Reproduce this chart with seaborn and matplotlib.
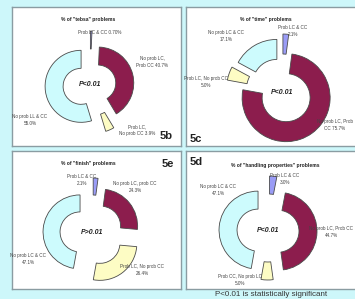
import matplotlib
matplotlib.use("Agg")
import matplotlib.pyplot as plt
import seaborn as sns

sns.set_theme(style="white")
plt.rcParams['font.family'] = ['Liberation Sans', 'DejaVu Sans']

# ---------------- data ----------------
categories = ["Prob LC & CC", "No prob LC, Prob CC", "Prob LC, No prob CC", "No prob LC & CC"]
panel_ids = ["5b", "5c", "5e", "5d"]
titles = ['% of "tebsa" problems', '% of "time" problems',
          '% of "finish" problems', '% of "handling properties" problems']
values_5b = [0.7, 40.7, 3.9, 54.7]
values_5c = [2.1, 75.7, 5.0, 17.1]
values_5e = [2.1, 24.3, 26.4, 47.1]
values_5d = [3.0, 44.7, 5.0, 47.1]
labels_5b = ["Prob LC & CC 0.70%", "No prob LC,\nProb CC 40.7%", "Prob LC,\nNo prob CC 3.9%", "No prob LL & CC\n55.0%"]
labels_5c = ["Prob LC & CC\n2.1%", "No prob LC, Prob\nCC 75.7%", "Prob LC, No prob CC\n5.0%", "No prob LC & CC\n17.1%"]
labels_5e = ["Prob LC & CC\n2.1%", "No prob LC, prob CC\n24.3%", "Prob LC, No prob CC\n26.4%", "No prob LC & CC\n47.1%"]
labels_5d = ["Prob LC & CC\n3.0%", "No prob LC, Prob CC\n44.7%", "Prob CC, No prob LC\n5.0%", "No prob LC & CC\n47.1%"]
p_texts = ["P<0.01", "P<0.01", "P>0.01", "P<0.01"]
footnote = "P<0.01 is statistically significant"

all_values = [values_5b, values_5c, values_5e, values_5d]
all_labels = [labels_5b, labels_5c, labels_5e, labels_5d]

# ---------------- layout (pixel coords, y downwards) ----------------
W, H = 355, 299
panels = [(12, 7, 181, 146), (186, 7, 362, 146), (12, 151, 181, 289), (186, 151, 362, 289)]
centers = [(90, 85), (282, 92), (92, 233), (268, 231)]
radii = [36, 44, 37, 39]
widths = [18, 20, 17, 18]
explodes = [[18, 8, 13, 9], [14, 7, 12, 10], [18, 11, 13, 12], [16, 10, 10, 10]]
label_pos = [
    [(100, 32, 'center'), (152, 62, 'center'), (137, 130, 'center'), (30, 120, 'center')],
    [(293, 31, 'center'), (353, 125, 'right'), (206, 82, 'center'), (226, 36, 'center')],
    [(82, 180, 'center'), (135, 187, 'center'), (142, 270, 'center'), (28, 259, 'center')],
    [(285, 179, 'center'), (353, 232, 'right'), (262, 280, 'right'), (218, 190, 'center')],
]
title_pos = [(88, 19), (266, 19), (88, 163), (275, 165)]
id_pos = [(166, 136), (196, 139), (168, 164), (196, 162)]

colors = ["#9a9cf6", "#8c1d4d", "#fdfcc4", "#cdfbfd"]
edge = "#4a4a4a"

fig = plt.figure(figsize=(W / 100, H / 100), dpi=100)
fig.patch.set_facecolor("#cdf7fa")

for i in range(4):
    x0, y0, x1, y1 = panels[i]
    pw, ph = x1 - x0, y1 - y0
    ax = fig.add_axes([x0 / W, (H - y1) / H, pw / W, ph / H])
    ax.set_facecolor("white")

    def tp(x, y):
        return x - x0, ph - (y - y0)

    cx, cy = tp(*centers[i])
    ax.pie(all_values[i], colors=colors, startangle=90, counterclock=False,
           radius=radii[i], center=(cx, cy), explode=explodes[i], frame=True,
           wedgeprops=dict(width=widths[i], edgecolor=edge, linewidth=0.6))
    ax.set_xlim(0, pw)
    ax.set_ylim(0, ph)
    ax.set_aspect('auto')
    ax.set_xticks([])
    ax.set_yticks([])
    for s in ax.spines.values():
        s.set_color("#8a9ca2")
        s.set_linewidth(1.0)

    for lab, (lx, ly, ha) in zip(all_labels[i], label_pos[i]):
        ax.text(*tp(lx, ly), lab, fontsize=3.3, ha=ha, va='center',
                multialignment='center', color="#444444", linespacing=1.3)
    ax.text(*tp(*title_pos[i]), titles[i], fontsize=3.6, fontweight='bold',
            ha='center', va='center', color="#222222")
    ax.text(*tp(*id_pos[i]), panel_ids[i], fontsize=8, fontweight='bold',
            ha='center', va='center', color="#222222")
    ax.text(cx, cy, p_texts[i], fontsize=5, fontweight='bold', style='italic',
            ha='center', va='center', color="#222222")

fig.text(215 / W, 1 - 290.5 / H, footnote, fontsize=5.8, ha='left', va='top',
         color="#333333")

fig.savefig("out.png", dpi=100, facecolor=fig.get_facecolor())
